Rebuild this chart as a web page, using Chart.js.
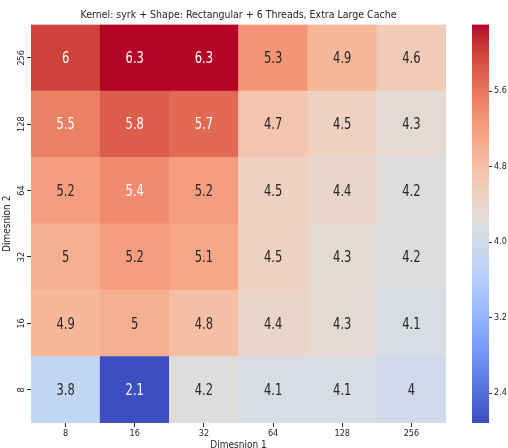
<!DOCTYPE html>
<html lang="en">
<head>
<meta charset="UTF-8" />
<title>syrk heatmap</title>
<script src="https://cdn.jsdelivr.net/npm/chart.js"></script>
<style>
  html, body { margin: 0; padding: 0; background: #fff; }
  #wrap { width: 508px; height: 448px; }
</style>
</head>
<body>
<div id="wrap"><canvas id="heat" width="508" height="448"></canvas></div>
<script>
// axis categories (Dimension 2 listed bottom to top)
const dim1Labels = ['8', '16', '32', '64', '128', '256'];
const dim2Labels = ['8', '16', '32', '64', '128', '256'];

// cell values, one array per Dimension 2 row
const dim2_8   = [3.8, 2.1, 4.2, 4.1, 4.1, 4.0];
const dim2_16  = [4.9, 5.0, 4.8, 4.4, 4.3, 4.1];
const dim2_32  = [5.0, 5.2, 5.1, 4.5, 4.3, 4.2];
const dim2_64  = [5.2, 5.4, 5.2, 4.5, 4.4, 4.2];
const dim2_128 = [5.5, 5.8, 5.7, 4.7, 4.5, 4.3];
const dim2_256 = [6.0, 6.3, 6.3, 5.3, 4.9, 4.6];
const cellValues = [dim2_8, dim2_16, dim2_32, dim2_64, dim2_128, dim2_256];

// colour bar
const colorMin = 2.08;
const colorMax = 6.3;
const colorbarTicks = [2.4, 3.2, 4.0, 4.8, 5.6];

const FONT = '"DejaVu Sans Condensed", "DejaVu Sans", sans-serif';
const INK = '#262626';

// matplotlib coolwarm (Moreland), 33 stops
const coolwarm = [
  [59,76,192],[68,90,204],[77,104,215],[87,117,225],[98,130,234],[108,142,241],
  [119,154,247],[130,165,251],[141,176,254],[152,185,255],[163,194,255],[174,201,253],
  [184,208,249],[194,213,244],[204,217,238],[213,219,230],[221,221,221],[229,216,209],
  [236,211,197],[241,204,185],[245,196,173],[247,187,160],[247,177,148],[247,166,135],
  [244,154,123],[241,141,111],[236,127,99],[229,112,88],[222,96,77],[213,80,66],
  [203,62,56],[192,40,47],[180,4,38]
];

function cmap(t) {
  t = Math.max(0, Math.min(1, t));
  const p = t * (coolwarm.length - 1);
  const i = Math.min(coolwarm.length - 2, Math.floor(p));
  const f = p - i;
  const a = coolwarm[i], b = coolwarm[i + 1];
  return a.map((v, k) => Math.round(v + (b[k] - v) * f));
}
function colorFor(v) {
  return cmap((v - colorMin) / (colorMax - colorMin));
}
function rgb(c) { return 'rgb(' + c.join(',') + ')'; }
function luminance(c) {
  const l = c.map(v => {
    v /= 255;
    return v <= 0.03928 ? v / 12.92 : Math.pow((v + 0.055) / 1.055, 2.4);
  });
  return 0.2126 * l[0] + 0.7152 * l[1] + 0.0722 * l[2];
}

// each row is a dataset of floating bars spanning one unit on the y scale
const datasets = cellValues.map((row, r) => ({
  data: row.map(() => [r - 0.5, r + 0.5]),
  backgroundColor: row.map(v => rgb(colorFor(v))),
  borderWidth: 0,
  barPercentage: 1,
  categoryPercentage: 1,
  grouped: false
}));

const heatPlugin = {
  id: 'heatExtras',
  afterDatasetsDraw(chart) {
    const ctx = chart.ctx;
    const yScale = chart.scales.y;
    ctx.save();
    ctx.font = '16px "DejaVu Sans", sans-serif';
    ctx.textAlign = 'center';
    ctx.textBaseline = 'middle';
    chart.data.datasets.forEach((ds, r) => {
      chart.getDatasetMeta(r).data.forEach((bar, c) => {
        const v = cellValues[r][c];
        ctx.fillStyle = luminance(colorFor(v)) > 0.408 ? INK : '#ffffff';
        // the source image is squeezed sideways, so the digits are too
        ctx.save();
        ctx.translate(bar.x, yScale.getPixelForValue(r) + 1);
        ctx.scale(0.72, 1);
        ctx.fillText(String(v), 0, 0);
        ctx.restore();
      });
    });
    ctx.restore();
  },
  afterDraw(chart) {
    const ctx = chart.ctx;
    const yScale = chart.scales.y;
    const cbar = chart.scales.cbar;
    const area = chart.chartArea;
    ctx.save();

    // rotated y tick labels
    ctx.font = '9px ' + FONT;
    ctx.fillStyle = INK;
    ctx.textAlign = 'center';
    ctx.textBaseline = 'middle';
    dim2Labels.forEach((lab, i) => {
      ctx.save();
      ctx.translate(area.left - 9, yScale.getPixelForValue(i));
      ctx.rotate(-Math.PI / 2);
      ctx.fillText(lab, 0, 0);
      ctx.restore();
    });

    // colour bar
    const x0 = area.right + 26, w = 17;
    const top = cbar.getPixelForValue(colorMax);
    const bottom = cbar.getPixelForValue(colorMin);
    const grad = ctx.createLinearGradient(0, bottom, 0, top);
    coolwarm.forEach((c, i) => grad.addColorStop(i / (coolwarm.length - 1), rgb(c)));
    ctx.fillStyle = grad;
    ctx.fillRect(x0, top, w, bottom - top);

    ctx.strokeStyle = INK;
    ctx.lineWidth = 1;
    colorbarTicks.forEach(v => {
      const y = Math.round(cbar.getPixelForValue(v)) + 0.5;
      ctx.beginPath();
      ctx.moveTo(x0 + w, y);
      ctx.lineTo(x0 + w + 3, y);
      ctx.stroke();
    });
    ctx.restore();
  }
};

new Chart(document.getElementById('heat'), {
  type: 'bar',
  data: { labels: dim1Labels, datasets: datasets },
  options: {
    responsive: false,
    animation: false,
    events: [],
    layout: { padding: 0 },
    plugins: {
      legend: { display: false },
      tooltip: { enabled: false },
      title: {
        display: true,
        text: 'Kernel: syrk + Shape: Rectangular + 6 Threads, Extra Large Cache',
        fullSize: false,
        color: INK,
        font: { family: FONT, size: 10.5, weight: 'normal' },
        padding: { top: 9, bottom: 3 }
      }
    },
    scales: {
      x: {
        type: 'category',
        offset: true,
        border: { display: false },
        grid: { display: true, offset: false, drawOnChartArea: false, drawTicks: true, tickLength: 4, color: INK },
        ticks: { color: INK, font: { family: FONT, size: 9 }, padding: 1, minRotation: 0, maxRotation: 0 },
        title: { display: true, text: 'Dimesnion 1', color: INK, font: { family: FONT, size: 10 }, padding: { top: 0, bottom: -3 } },
        afterFit: s => { s.height = 25; }
      },
      y: {
        type: 'linear',
        min: -0.5,
        max: 5.5,
        border: { display: false },
        afterBuildTicks: s => { s.ticks = dim2Labels.map((_, i) => ({ value: i })); },
        grid: { display: true, drawOnChartArea: false, drawTicks: true, tickLength: 4, color: INK },
        ticks: { display: false },
        title: { display: true, text: 'Dimesnion 2', color: INK, font: { family: FONT, size: 10 }, padding: { top: 1, bottom: 0 } },
        afterFit: s => { s.width = 31; }
      },
      cbar: {
        type: 'linear',
        position: 'right',
        min: colorMin,
        max: colorMax,
        border: { display: false },
        afterBuildTicks: s => { s.ticks = colorbarTicks.map(v => ({ value: v })); },
        // invisible long tick marks push the labels past the colour bar
        grid: { display: true, drawOnChartArea: false, drawTicks: true, tickLength: 46, color: 'rgba(0,0,0,0)' },
        ticks: { color: INK, font: { family: FONT, size: 9 }, padding: 2, callback: v => v.toFixed(1) },
        afterFit: s => { s.width = 62; }
      }
    }
  },
  plugins: [heatPlugin]
});
</script>
</body>
</html>
